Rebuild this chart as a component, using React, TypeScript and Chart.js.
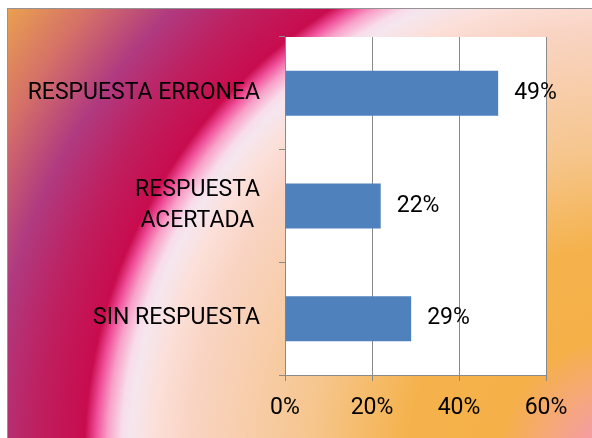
import React, { useEffect, useRef } from 'react';
import { Chart, registerables } from 'chart.js';

Chart.register(...registerables);

const categories: (string | string[])[] = ['RESPUESTA ERRONEA', ['RESPUESTA', 'ACERTADA '], 'SIN RESPUESTA'];
const values = [49, 22, 29];
const valueLabels = ['49%', '22%', '29%'];
const xMin = 0;
const xMax = 60;
const xStep = 20;

const FONT = 'Roboto, "Liberation Sans", Arial, sans-serif';
const FSIZE = 23;
const GRID = '#8a8a8a';

const backgroundPlugin = {
  id: 'bgPlugin',
  beforeDraw(chart: any) {
    const { ctx, width, height, chartArea } = chart;
    ctx.save();
    ctx.fillStyle = '#ffffff';
    ctx.fillRect(0, 0, width, height);
    const cx = 620, cy = 460, R = 760;
    const g = ctx.createRadialGradient(cx, cy, 0, cx, cy, R);
    const stops: [number, string][] = [
      [0.0, '#f598a8'],
      [0.045, '#f59ca4'],
      [0.1, '#f5a878'],
      [0.16, '#f5b048'],
      [0.28, '#f5b24c'],
      [0.41, '#f6c68e'],
      [0.57, '#f9d4c4'],
      [0.612, '#fcdfd8'],
      [0.645, '#f5e6ee'],
      [0.657, '#f8dcea'],
      [0.675, '#f8a0c8'],
      [0.69, '#f0509a'],
      [0.705, '#c80c4e'],
      [0.77, '#be2060'],
      [0.835, '#b03a80'],
      [0.915, '#d47068'],
      [1.0, '#eaa050'],
    ];
    stops.forEach(([o, c]) => g.addColorStop(o, c));
    ctx.fillStyle = g;
    ctx.fillRect(7, 8, width - 7, height - 8);
    ctx.strokeStyle = '#939393';
    ctx.lineWidth = 1;
    ctx.beginPath();
    ctx.moveTo(7.5, height);
    ctx.lineTo(7.5, 8.5);
    ctx.lineTo(width, 8.5);
    ctx.stroke();
    ctx.fillStyle = '#ffffff';
    ctx.fillRect(chartArea.left, chartArea.top, chartArea.right - chartArea.left, chartArea.bottom - chartArea.top);
    ctx.restore();
  },
};

const valueLabelPlugin = {
  id: 'valueLabels',
  afterDatasetsDraw(chart: any) {
    const { ctx } = chart;
    const meta = chart.getDatasetMeta(0);
    ctx.save();
    ctx.font = `${FSIZE}px ${FONT}`;
    ctx.fillStyle = '#000000';
    ctx.textAlign = 'left';
    ctx.textBaseline = 'middle';
    meta.data.forEach((el: any, i: number) => {
      ctx.fillText(valueLabels[i], el.x + 16, el.y);
    });
    ctx.restore();
  },
};

export default function App() {
  const ref = useRef<HTMLCanvasElement | null>(null);

  useEffect(() => {
    document.body.style.margin = '0';
    const canvas = ref.current;
    if (!canvas) return;
    const chart = new Chart(canvas, {
      type: 'bar',
      data: {
        labels: categories as any,
        datasets: [
          {
            data: values,
            backgroundColor: '#4f81bd',
            borderWidth: 0,
            barPercentage: 0.4,
            categoryPercentage: 1,
          },
        ],
      },
      options: {
        indexAxis: 'y',
        responsive: false,
        animation: false,
        devicePixelRatio: 1,
        layout: { padding: { left: 0, top: 37, right: 46, bottom: 0 } },
        plugins: {
          legend: { display: false },
          tooltip: { enabled: false },
          title: { display: false },
        },
        scales: {
          x: {
            min: xMin,
            max: xMax,
            afterFit: (s: any) => {
              s.height = 63;
            },
            ticks: {
              stepSize: xStep,
              callback: (v: any) => `${v}%`,
              color: '#000000',
              padding: 13,
              maxRotation: 0,
              font: { family: FONT, size: FSIZE, lineHeight: 1.2 },
            },
            grid: {
              color: GRID,
              lineWidth: 1,
              drawOnChartArea: true,
              drawTicks: true,
              tickLength: 6,
            },
            border: { display: true, color: GRID, width: 1 },
          },
          y: {
            afterFit: (s: any) => {
              s.width = 285;
            },
            ticks: {
              color: '#000000',
              padding: 19,
              font: { family: FONT, size: FSIZE, lineHeight: 1.35 },
            },
            grid: {
              color: GRID,
              lineWidth: 1,
              drawOnChartArea: false,
              drawTicks: true,
              tickLength: 6,
            },
            border: { display: true, color: GRID, width: 1 },
          },
        },
      },
      plugins: [backgroundPlugin, valueLabelPlugin],
    });
    return () => chart.destroy();
  }, []);

  return (
    <div style={{ width: 592, height: 438, overflow: 'hidden' }}>
      <canvas ref={ref} width={592} height={438} style={{ display: 'block' }} />
    </div>
  );
}
